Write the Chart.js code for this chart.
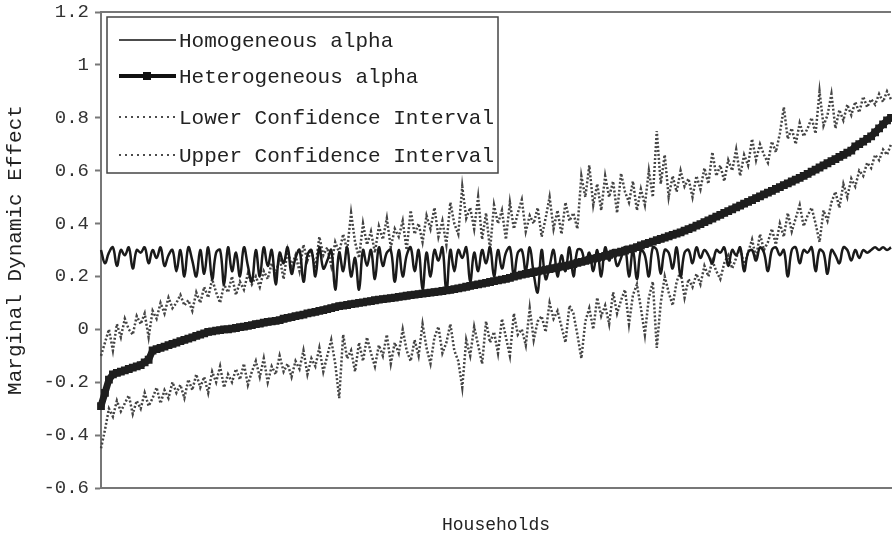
<!DOCTYPE html>
<html lang="en">
  <head>
    <meta charset="UTF-8" />
    <title>Marginal Dynamic Effect</title>
    <script src="https://cdn.jsdelivr.net/npm/chart.js@4.4.1/dist/chart.umd.min.js"></script>
    <style>
      body { margin: 0; background: #fff; }
      #wrap { width: 892px; height: 536px; }
    </style>
  </head>
  <body>
    <div id="wrap"><canvas id="myChart" width="892" height="536"></canvas></div>

    <script>
      // households sorted by the heterogeneous estimate
      const heteroAlpha = [
        -0.29, -0.24, -0.19, -0.17, -0.165,
        -0.16, -0.155, -0.15, -0.145, -0.14, -0.135, -0.125,
        -0.115, -0.08,
        -0.075, -0.07, -0.065, -0.06, -0.055, -0.05, -0.045, -0.04, -0.035, -0.03, -0.025, -0.02,
        -0.015, -0.01, -0.008, -0.005, -0.003, 0, 0,
        0.003, 0.005, 0.008, 0.01, 0.013, 0.016, 0.02, 0.022, 0.025, 0.028, 0.03, 0.032, 0.035,
        0.04, 0.043, 0.046, 0.05, 0.053, 0.056, 0.06, 0.063, 0.066, 0.07, 0.073, 0.076, 0.08, 0.084, 0.088,
        0.09, 0.092, 0.095, 0.097, 0.1, 0.102, 0.105, 0.107, 0.11, 0.112, 0.114, 0.116, 0.118, 0.12, 0.123,
        0.125, 0.127, 0.129, 0.131, 0.133, 0.135, 0.137, 0.139, 0.141, 0.143, 0.145, 0.147, 0.149, 0.152, 0.155,
        0.158, 0.161, 0.164, 0.167, 0.17, 0.173, 0.176, 0.179, 0.182, 0.185, 0.188, 0.191, 0.195, 0.199, 0.203,
        0.207, 0.21, 0.213, 0.216, 0.219, 0.222, 0.225, 0.228, 0.231, 0.234, 0.237, 0.24, 0.243, 0.247, 0.251,
        0.255, 0.259, 0.263, 0.267, 0.27, 0.274, 0.278, 0.282, 0.286, 0.29, 0.294, 0.298, 0.302, 0.306, 0.311,
        0.317, 0.322, 0.327, 0.332, 0.337, 0.342, 0.347, 0.352, 0.357, 0.362, 0.367, 0.373, 0.379, 0.385, 0.392,
        0.398, 0.405, 0.412, 0.419, 0.426, 0.433, 0.44, 0.447, 0.454, 0.461, 0.468, 0.475, 0.482, 0.489, 0.496,
        0.503, 0.51, 0.517, 0.524, 0.531, 0.538, 0.545, 0.552, 0.559, 0.566, 0.573, 0.58, 0.588, 0.596, 0.604,
        0.612, 0.62, 0.628, 0.636, 0.644, 0.652, 0.66, 0.668, 0.676, 0.692, 0.7, 0.71, 0.72, 0.73, 0.745,
        0.76, 0.775, 0.79, 0.8
      ];

      const homoAlpha = [
        0.3, 0.25, 0.29, 0.31, 0.24, 0.3, 0.28, 0.31, 0.23, 0.3,
        0.29, 0.31, 0.25, 0.3, 0.27, 0.31, 0.24, 0.28, 0.3, 0.22,
        0.3, 0.2, 0.31, 0.26, 0.2, 0.3, 0.21, 0.31, 0.19, 0.29,
        0.3, 0.17, 0.31, 0.22, 0.29, 0.2, 0.31, 0.24, 0.18, 0.3,
        0.2, 0.31, 0.24, 0.3, 0.17, 0.29, 0.25, 0.31, 0.21, 0.27,
        0.3, 0.18, 0.28, 0.3, 0.2, 0.31, 0.23, 0.26, 0.3, 0.15,
        0.29, 0.22, 0.31, 0.2, 0.27, 0.15, 0.3, 0.24, 0.3, 0.19,
        0.31, 0.24, 0.29, 0.3, 0.18, 0.3, 0.2, 0.28, 0.31, 0.22,
        0.3, 0.15, 0.29, 0.2, 0.3, 0.26, 0.31, 0.14, 0.3, 0.22,
        0.3, 0.27, 0.31, 0.18, 0.29, 0.22, 0.3, 0.25, 0.31, 0.2,
        0.3, 0.23, 0.29, 0.31, 0.2, 0.29, 0.3, 0.22, 0.31, 0.21,
        0.14, 0.3, 0.19, 0.24, 0.3, 0.2, 0.28, 0.22, 0.31, 0.2,
        0.3, 0.3, 0.25, 0.29, 0.22, 0.3, 0.2, 0.31, 0.26, 0.3,
        0.24, 0.27, 0.31, 0.2, 0.3, 0.19, 0.3, 0.28, 0.2, 0.31,
        0.3, 0.21, 0.3, 0.29, 0.23, 0.31, 0.2, 0.29, 0.3, 0.25,
        0.31, 0.27, 0.3, 0.28, 0.25, 0.3, 0.29, 0.31, 0.24, 0.3,
        0.28, 0.31, 0.22, 0.29, 0.3, 0.26, 0.31, 0.29, 0.22, 0.3,
        0.31, 0.28, 0.3, 0.2, 0.3, 0.31, 0.25, 0.3, 0.29, 0.31,
        0.22, 0.3, 0.29, 0.21, 0.3, 0.28, 0.25, 0.31, 0.3, 0.26,
        0.3, 0.27, 0.3, 0.29, 0.3, 0.31, 0.3, 0.31, 0.3, 0.31
      ];

      const lowerCI = [
        -0.45, -0.38, -0.3, -0.33, -0.27, -0.31, -0.28, -0.25, -0.32, -0.27,
        -0.3, -0.24, -0.29, -0.26, -0.22, -0.28, -0.23, -0.26, -0.2, -0.24,
        -0.21, -0.26, -0.19, -0.23, -0.17, -0.22, -0.18, -0.24, -0.16, -0.2,
        -0.14, -0.22, -0.17, -0.2, -0.15, -0.19, -0.13, -0.21, -0.16, -0.12,
        -0.18, -0.11, -0.2, -0.14, -0.17, -0.1, -0.16, -0.13, -0.18, -0.12,
        -0.15, -0.08, -0.17, -0.11, -0.14, -0.07, -0.16, -0.1, -0.04, -0.13,
        -0.26, -0.02, -0.11, -0.08, -0.16, -0.05, -0.12, -0.03, -0.09, -0.14,
        -0.06, -0.1, -0.02, -0.13, -0.05, -0.09, 0.0, -0.08, -0.12, -0.04,
        -0.1, 0.02, -0.07, -0.13, -0.03, 0.01, -0.09, -0.05, 0.02, -0.08,
        -0.12, -0.22, -0.04, -0.1, 0.01, -0.06, -0.13, 0.03, -0.05, -0.01,
        -0.09, 0.04, -0.03, -0.1, 0.06, -0.02, 0.0, -0.06, 0.08, -0.04,
        0.03, 0.05, -0.01, 0.1, 0.04, 0.07, 0.01, -0.05, 0.09, 0.06,
        -0.02, -0.11, 0.03, 0.08, 0.0, 0.12, 0.05, 0.09, 0.02, 0.14,
        0.06, 0.11, 0.15, 0.02, 0.13, 0.17, 0.08, -0.02, 0.12, 0.18,
        -0.07, 0.1, 0.2, 0.14, 0.09, 0.18, 0.22, 0.12, 0.19, 0.16,
        0.21, 0.17, 0.24, 0.2, 0.26, 0.22, 0.19, 0.25, 0.28, 0.23,
        0.27, 0.31, 0.24, 0.29, 0.34, 0.27, 0.36, 0.3, 0.33, 0.38,
        0.32, 0.4, 0.35, 0.44, 0.37, 0.42, 0.47, 0.39, 0.43, 0.46,
        0.4, 0.33, 0.45, 0.41, 0.48, 0.52, 0.46, 0.55, 0.5, 0.57,
        0.54, 0.6, 0.58, 0.63, 0.61, 0.66, 0.64, 0.68, 0.66, 0.7
      ];

      const upperCI = [
        -0.1, -0.05, 0.0, -0.08, 0.02, -0.03, 0.04, 0.0, -0.02, 0.05,
        0.02, 0.06, -0.03, 0.07, 0.04, 0.1, 0.06, 0.12, 0.08, 0.1,
        0.13, 0.09, 0.11, 0.07, 0.14, 0.1, 0.16, 0.12, 0.19, 0.14,
        0.1, 0.17, 0.14, 0.2, 0.13, 0.18, 0.15, 0.21, 0.17, 0.2,
        0.16, 0.22, 0.19, 0.25, 0.21, 0.27, 0.19, 0.3, 0.24, 0.28,
        0.22, 0.32, 0.26, 0.3, 0.23, 0.35, 0.28, 0.31, 0.24, 0.33,
        0.29, 0.36, 0.3, 0.44, 0.33, 0.27, 0.4, 0.32, 0.37, 0.29,
        0.39, 0.34, 0.42, 0.31, 0.38, 0.35, 0.41, 0.3, 0.45, 0.36,
        0.4, 0.33, 0.43, 0.38, 0.46, 0.35, 0.41, 0.32, 0.48, 0.4,
        0.36, 0.54, 0.42, 0.46, 0.38, 0.5, 0.34, 0.44, 0.3, 0.47,
        0.4, 0.45, 0.34, 0.48, 0.38, 0.44, 0.49, 0.37, 0.43, 0.4,
        0.46, 0.35, 0.42, 0.5, 0.38, 0.45, 0.36, 0.48, 0.41, 0.44,
        0.38, 0.58, 0.5, 0.62, 0.47, 0.55, 0.45, 0.58, 0.5, 0.56,
        0.44, 0.59, 0.52, 0.48, 0.56, 0.45, 0.53, 0.47, 0.6, 0.5,
        0.75, 0.55, 0.66, 0.5, 0.58, 0.52, 0.6, 0.54, 0.57, 0.5,
        0.58, 0.53, 0.61, 0.55, 0.67, 0.58, 0.62, 0.56, 0.64, 0.6,
        0.68, 0.58, 0.66, 0.62, 0.72, 0.64, 0.7, 0.66, 0.63, 0.71,
        0.67, 0.74, 0.84, 0.72, 0.76, 0.7, 0.78, 0.73, 0.76, 0.8,
        0.74, 0.9, 0.77, 0.81, 0.89, 0.76, 0.83, 0.79, 0.85, 0.81,
        0.86, 0.82, 0.88, 0.84, 0.87, 0.85, 0.89, 0.86, 0.9, 0.87
      ];

      const yTicks = { min: -0.6, max: 1.2, step: 0.2 };
      const households = heteroAlpha.map((_, i) => i + 1);

      const FONT = "'Liberation Mono', 'Courier New', monospace";
      const AXIS_GREY = "#777";

      // boxed legend drawn inside the plot, top-left
      const boxLegend = {
        id: "boxLegend",
        afterDraw(chart) {
          const ctx = chart.ctx;
          const area = chart.chartArea;
          const x = area.left + 6, y = area.top + 5;
          const w = 391, h = 156;
          ctx.save();

          // top border of the plot frame
          ctx.strokeStyle = AXIS_GREY;
          ctx.lineWidth = 2;
          ctx.beginPath();
          ctx.moveTo(area.left, area.top);
          ctx.lineTo(area.right, area.top);
          ctx.stroke();

          ctx.fillStyle = "#fff";
          ctx.fillRect(x, y, w, h);
          ctx.strokeStyle = "#444";
          ctx.lineWidth = 1.5;
          ctx.strokeRect(x, y, w, h);

          ctx.font = "21px " + FONT;
          ctx.textBaseline = "middle";
          const rows = [23, 59, 100, 138];
          chart.data.datasets.forEach((ds, i) => {
            const ry = y + rows[i];
            ctx.strokeStyle = "#111";
            ctx.lineWidth = ds.legendWidth;
            ctx.setLineDash(ds.legendDash || []);
            ctx.beginPath();
            ctx.moveTo(x + 12, ry);
            ctx.lineTo(x + 69, ry);
            ctx.stroke();
            ctx.setLineDash([]);
            if (ds.pointRadius > 0) {
              ctx.fillStyle = "#111";
              ctx.fillRect(x + 36, ry - 4, 8, 8);
            }
            ctx.fillStyle = "#222";
            ctx.fillText(ds.label, x + 72, ry + 1);
          });
          ctx.restore();
        }
      };

      const ctx = document.getElementById("myChart").getContext("2d");
      const myChart = new Chart(ctx, {
        type: "line",
        data: {
          labels: households,
          datasets: [
            {
              label: "Homogeneous alpha",
              data: homoAlpha,
              borderColor: "#1a1a1a",
              borderWidth: 2.5,
              tension: 0.4,
              pointRadius: 0,
              legendWidth: 1.5,
              order: 2
            },
            {
              label: "Heterogeneous alpha",
              data: heteroAlpha,
              borderColor: "#1e1e1e",
              backgroundColor: "#1e1e1e",
              borderWidth: 7,
              pointStyle: "rect",
              pointRadius: 5.5,
              pointBorderWidth: 0,
              legendWidth: 4,
              order: 1
            },
            {
              label: "Lower Confidence Interval",
              data: lowerCI,
              borderColor: "#444",
              borderWidth: 2.5,
              borderDash: [2, 2],
              pointRadius: 0,
              legendWidth: 1.5,
              legendDash: [2, 4],
              order: 3
            },
            {
              label: "Upper Confidence Interval",
              data: upperCI,
              borderColor: "#444",
              borderWidth: 2.5,
              borderDash: [2, 2],
              pointRadius: 0,
              legendWidth: 1.5,
              legendDash: [2, 4],
              order: 3
            }
          ]
        },
        options: {
          responsive: false,
          animation: false,
          devicePixelRatio: 1,
          layout: {
            autoPadding: false,
            padding: { top: 12, right: 1, left: 0, bottom: 0 }
          },
          plugins: {
            legend: { display: false },
            tooltip: { enabled: false }
          },
          scales: {
            x: {
              ticks: { display: false },
              grid: { display: false },
              border: { color: AXIS_GREY, width: 2 },
              title: {
                display: true,
                text: "Households",
                color: "#222",
                font: { family: FONT, size: 18 },
                padding: { top: 24, bottom: 0 }
              },
              afterFit(scale) {
                scale.height = 48;
                scale.paddingLeft = 0;
                scale.paddingRight = 0;
              }
            },
            y: {
              min: yTicks.min,
              max: yTicks.max,
              ticks: {
                stepSize: yTicks.step,
                color: "#333",
                padding: 6,
                font: { family: FONT, size: 19 },
                callback: (v) => String(Number(v.toFixed(1)))
              },
              grid: {
                drawOnChartArea: false,
                tickLength: 6,
                tickWidth: 2,
                color: AXIS_GREY
              },
              border: { color: AXIS_GREY, width: 2 },
              title: {
                display: true,
                text: "Marginal Dynamic Effect",
                color: "#222",
                font: { family: FONT, size: 21 },
                padding: { top: 3, bottom: 0 }
              },
              afterFit(scale) {
                scale.width = 101;
                scale.paddingTop = 0;
                scale.paddingBottom = 0;
              }
            }
          }
        },
        plugins: [boxLegend]
      });
    </script>
  </body>
</html>
